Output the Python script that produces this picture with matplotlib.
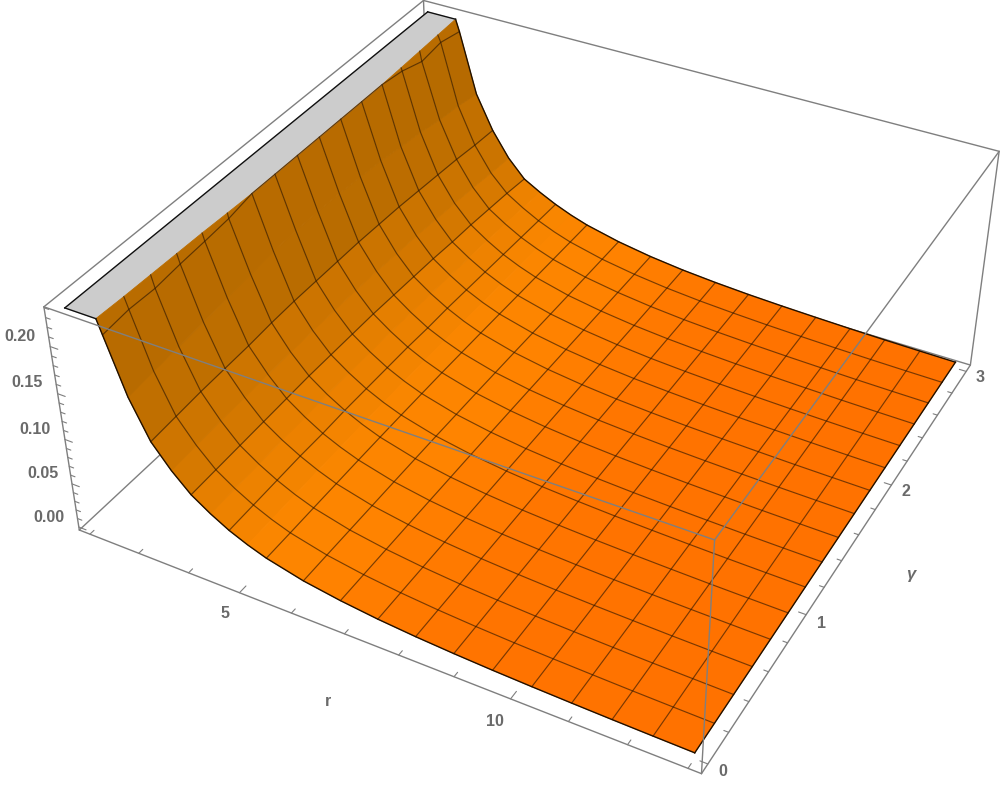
import numpy as np
import matplotlib
matplotlib.use('Agg')
import matplotlib.pyplot as plt

r_values = [2.6875, 3.03, 3.375, 3.72, 4.0625, 4.41, 4.75, 5.09, 5.4375, 6.125, 6.8125, 7.5, 8.1875,
            8.875, 9.5625, 10.25, 10.9375, 11.625, 12.3125, 13.0]
# rows between the mesh lines only follow the curve of the surface
r_unmeshed = [3.03, 3.72, 4.41, 5.09]
gamma_values = [0, 0.1875, 0.375, 0.5625, 0.75, 0.9375, 1.125, 1.3125, 1.5,
                1.6875, 1.875, 2.0625, 2.25, 2.4375, 2.625, 2.8125, 3.0]
# one row per r value, one column per gamma value
z_values = [
    [.2215, .2245, .2235, .2265, .2285, .2310, .2365, .2365, .2365, .2365, .2365, .2365, .2365, .2330, .2255, .2290, .2235],
    [.1630, .1660, .1680, .1710, .1740, .1770, .1800, .1810, .1810, .1800, .1780, .1760, .1720, .1690, .1640, .1610, .1560],
    [.1220, .1240, .1260, .1270, .1280, .1300, .1310, .1310, .1310, .1310, .1300, .1290, .1270, .1250, .1230, .1200, .1180],
    [.0975, .0990, .1005, .1015, .1025, .1035, .1040, .1040, .1040, .1035, .1020, .1010, .0990, .0970, .0950, .0920, .0900],
    [.0780, .0790, .0800, .0810, .0820, .0830, .0830, .0830, .0830, .0820, .0810, .0800, .0780, .0770, .0750, .0730, .0700],
    [.0643, .0652, .0662, .0672, .0678, .0686, .0688, .0688, .0688, .0678, .0672, .0664, .0649, .0639, .0625, .0610, .0592],
    [.0530, .0540, .0550, .0560, .0560, .0570, .0570, .0570, .0570, .0560, .0560, .0550, .0540, .0530, .0520, .0510, .0500],
    [.0443, .0450, .0458, .0466, .0470, .0476, .0477, .0477, .0477, .0472, .0468, .0460, .0453, .0446, .0439, .0431, .0424],
    [.0370, .0375, .0382, .0388, .0394, .0398, .0400, .0400, .0400, .0396, .0392, .0386, .0380, .0375, .0370, .0365, .0360],
    [.0270, .0275, .0279, .0283, .0287, .0290, .0292, .0292, .0292, .0290, .0288, .0284, .0280, .0277, .0274, .0272, .0270],
    [.0205, .0208, .0211, .0214, .0216, .0218, .0220, .0220, .0220, .0219, .0217, .0215, .0213, .0211, .0209, .0207, .0205],
    [.0157, .0160, .0162, .0164, .0166, .0167, .0168, .0168, .0168, .0168, .0167, .0165, .0164, .0162, .0161, .0159, .0158],
    [.0123, .0125, .0126, .0128, .0129, .0130, .0131, .0131, .0131, .0131, .0130, .0129, .0128, .0127, .0126, .0125, .0125],
    [.0098, .0099, .0101, .0102, .0103, .0104, .0105, .0105, .0105, .0105, .0104, .0104, .0103, .0102, .0101, .0101, .0100],
    [.0079, .0080, .0081, .0082, .0083, .0084, .0085, .0085, .0085, .0085, .0084, .0084, .0084, .0083, .0083, .0082, .0082],
    [.0065, .0066, .0067, .0067, .0068, .0069, .0070, .0070, .0070, .0070, .0070, .0069, .0069, .0069, .0068, .0068, .0068],
    [.0054, .0055, .0055, .0056, .0056, .0057, .0058, .0058, .0058, .0058, .0058, .0057, .0057, .0057, .0057, .0056, .0056],
    [.0045, .0045, .0046, .0046, .0047, .0047, .0048, .0048, .0048, .0048, .0048, .0048, .0048, .0047, .0047, .0047, .0047],
    [.0038, .0038, .0039, .0039, .0040, .0040, .0041, .0041, .0041, .0041, .0041, .0040, .0040, .0040, .0040, .0040, .0040],
    [.0032, .0032, .0033, .0033, .0034, .0034, .0035, .0035, .0035, .0035, .0035, .0035, .0035, .0035, .0035, .0035, .0035],
]
# where the surface leaves the clipped plateau, for each gamma value
r_plate_start = 2.0
z_clip = 0.2365
r_clip_edge = [2.60, 2.62, 2.63, 2.64, 2.65, 2.67, 2.6875, 2.6875, 2.6875, 2.6875,
               2.6875, 2.6875, 2.6875, 2.67, 2.65, 2.63, 2.61]

r_limits = (1.78, 13.22)
gamma_limits = (-0.06, 3.06)
z_limits = (-0.0035, 0.241)
r_ticks = [2, 3, 4, 5, 6, 7, 8, 9, 10, 11, 12, 13]
r_major = [5, 10]
gamma_ticks = [0, 0.2, 0.4, 0.6, 0.8, 1.0, 1.2, 1.4, 1.6, 1.8, 2.0, 2.2, 2.4, 2.6, 2.8, 3.0]
gamma_major = [0, 1.0, 2.0, 3.0]
z_ticks = [0, 0.01, 0.02, 0.03, 0.04, 0.05, 0.06, 0.07, 0.08, 0.09, 0.1, 0.11, 0.12,
           0.13, 0.14, 0.15, 0.16, 0.17, 0.18, 0.19, 0.2, 0.21, 0.22, 0.23, 0.24]
z_major = [0, 0.05, 0.1, 0.15, 0.2]

# label, x pixel, y pixel
labels = [('0.20', 19.5, 336.5), ('0.15', 27.5, 383), ('0.10', 35, 429), ('0.05', 43, 474),
          ('0.00', 49, 518), ('5', 225, 614), ('10', 495, 721), ('r', 328, 702),
          ('0', 723, 772), ('1', 821, 623), ('2', 906, 492), ('3', 980, 378)]

W, H = 1000, 787
fig = plt.figure(figsize=(W / 100, H / 100), dpi=100)

# camera: the axes are square in pixels, 2d view limits run -0.095 to 0.09
scale = 2307.77
side = scale * 0.185
left = 544.98 - scale * 0.095
bottom = H - (338.31 + scale * 0.095)
ax = fig.add_axes([left / W, bottom / H, side / W, side / H], projection='3d', computed_zorder=False)
ax.set_proj_type('persp', focal_length=1.0)
ax.view_init(elev=36.207, azim=-61.415, roll=0.078)
ax.set_box_aspect((2.943, 2.933, 1.172), zoom=2.2653)
ax.set_xlim(*r_limits)
ax.set_ylim(*gamma_limits)
ax.set_zlim(*z_limits)
ax.set_axis_off()

gam = np.array(gamma_values)
z = np.array(z_values)
rr = np.array(r_values)
edge = np.array(r_clip_edge)

R = np.vstack([np.full(17, r_plate_start), edge, np.tile(rr[:, None], (1, 17))])
Z = np.vstack([np.full(17, z_clip), np.full(17, z_clip), z])
G = np.tile(gam, (R.shape[0], 1))

# shading from the slope in box units
dz = (Z[1:, :-1] - Z[:-1, :-1] + Z[1:, 1:] - Z[:-1, 1:]) / 2 / (z_limits[1] - z_limits[0]) * 1.172
dr = (R[1:, :-1] - R[:-1, :-1] + R[1:, 1:] - R[:-1, 1:]) / 2 / (r_limits[1] - r_limits[0]) * 2.943
slope = np.abs(dz) / np.maximum(dr, 1e-6)
slope_stops = [0.0, 0.05, 0.1, 0.2, 0.4, 0.7, 1.2, 2.7, 5.0]
red = [255, 255, 255, 255, 250, 232, 208, 185, 178]
green = [113, 116, 122, 132, 134, 128, 118, 108, 104]
colors = np.zeros(slope.shape + (4,))
colors[..., 0] = np.interp(slope, slope_stops, red) / 255
colors[..., 1] = np.interp(slope, slope_stops, green) / 255
colors[..., 3] = 1
colors[0, :] = (0.80, 0.80, 0.80, 1)
colors[1, :] = (185 / 255, 108 / 255, 0, 1)

box_color = '#7f7f7f'
x0, x1 = r_limits
y0, y1 = gamma_limits
z0, z1 = z_limits


def seg(xs, ys, zs, zorder, color=box_color, lw=1.0):
    ax.plot(xs, ys, zs, color=color, lw=lw, zorder=zorder, solid_capstyle='round', clip_on=False)


# box edges behind the surface
seg([x0, x0], [y1, y1], [z0, z1], 1)
seg([x0, x0], [y0, y1], [z0, z0], 1)
seg([x0, x1], [y1, y1], [z0, z0], 1)
seg([x0, x0], [y0, y1], [z1, z1], 1)
seg([x0, x1], [y1, y1], [z1, z1], 1)
seg([x0, x0], [y0, y0], [z0, z1], 1)
seg([x1, x1], [y1, y1], [z0, z1], 1)
seg([x0, x1], [y0, y0], [z0, z0], 1)
seg([x1, x1], [y0, y1], [z0, z0], 1)

ax.plot_surface(R, G, Z, facecolors=colors, rstride=1, cstride=1, shade=False,
                linewidth=0.6, antialiased=True, zorder=2, clip_on=False)

mesh = dict(color='#2a1400', lw=0.85, alpha=0.62, clip_on=False)
for i, value in enumerate(r_values[:-1]):
    if value not in r_unmeshed:
        ax.plot(R[i + 2], G[i + 2], Z[i + 2], zorder=3, **mesh)
for j in range(1, 16):
    ax.plot(R[1:, j], G[1:, j], Z[1:, j], zorder=3, **mesh)
edge_line = dict(color='#201000', lw=1.0, clip_on=False)
ax.plot(R[-1], G[-1], Z[-1], zorder=3, **edge_line)
ax.plot(R[1:, 0], G[1:, 0], Z[1:, 0], zorder=3, **edge_line)
ax.plot(R[1:, -1], G[1:, -1], Z[1:, -1], zorder=3, **edge_line)
plate_line = dict(zorder=3, color='#101010', lw=1.0, clip_on=False)
ax.plot([R[0, 0], R[0, -1]], [G[0, 0], G[0, -1]], [z_clip, z_clip], **plate_line)
ax.plot([R[0, 0], R[1, 0]], [G[0, 0], G[1, 0]], [z_clip, z_clip], **plate_line)
ax.plot([R[0, -1], R[1, -1]], [G[0, -1], G[1, -1]], [z_clip, z_clip], **plate_line)

# box edges drawn over the surface
seg([x0, x1], [y0, y0], [z1, z1], 4)
seg([x1, x1], [y0, y1], [z1, z1], 4)
seg([x1, x1], [y0, y0], [z0, z1], 4)

tick_color = '#7f7f7f'
for t in r_ticks:
    n = 0.05 if t in r_major else 0.03
    seg([t, t], [y0, y0 + n], [z0, z0], 5, color=tick_color, lw=0.8)
for t in gamma_ticks:
    n = 0.13 if t in gamma_major else 0.08
    seg([x1, x1 - n], [t, t], [z0, z0], 5, color=tick_color, lw=0.8)
for t in z_ticks:
    n = 0.15 if t in z_major else 0.09
    seg([x0, x0 + n], [y0, y0], [t, t], 5, color=tick_color, lw=0.8)

for s, px, py in labels:
    fig.text(px / W, 1 - py / H, s, ha='center', va='center', color='#6a6a6a', fontsize=11.5,
             family='Liberation Sans', fontweight='bold')
fig.text(911 / W, 1 - 574 / H, '\u03b3', ha='center', va='center', color='#6a6a6a', fontsize=12,
         family='Liberation Sans', style='italic', fontweight='bold')

fig.savefig('out.png', dpi=100)
